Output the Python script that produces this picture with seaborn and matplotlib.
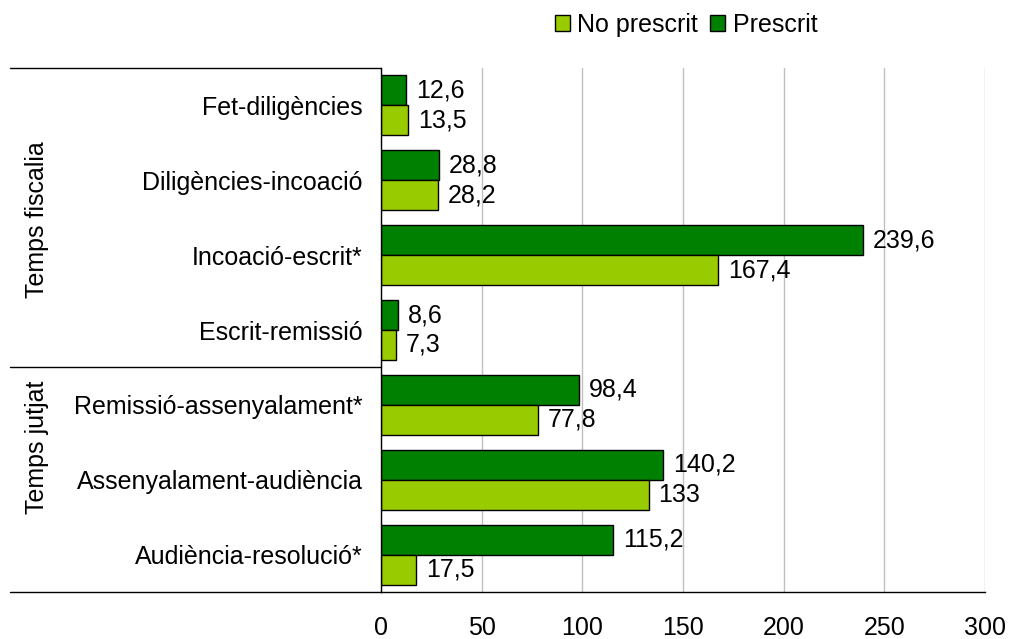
import matplotlib
matplotlib.use("Agg")
import matplotlib.pyplot as plt
import matplotlib.transforms as mtransforms
from matplotlib.lines import Line2D
from matplotlib.patches import Patch
import seaborn as sns
import pandas as pd

categories = ["Fet-diligències", "Diligències-incoació", "Incoació-escrit*",
              "Escrit-remissió", "Remissió-assenyalament*",
              "Assenyalament-audiència", "Audiència-resolució*"]
prescrit = [12.6, 28.8, 239.6, 8.6, 98.4, 140.2, 115.2]
no_prescrit = [13.5, 28.2, 167.4, 7.3, 77.8, 133, 17.5]
prescrit_labels = ["12,6", "28,8", "239,6", "8,6", "98,4", "140,2", "115,2"]
no_prescrit_labels = ["13,5", "28,2", "167,4", "7,3", "77,8", "133", "17,5"]
series = ["Prescrit", "No prescrit"]
groups = ["Temps fiscalia", "Temps jutjat"]
xticks = [0, 50, 100, 150, 200, 250, 300]

sns.set_style("white")
plt.rcParams["font.family"] = ["Liberation Sans", "DejaVu Sans"]
plt.rcParams["text.color"] = "black"
plt.rcParams["xtick.color"] = "black"
plt.rcParams["ytick.color"] = "black"
plt.rcParams["xtick.labelcolor"] = "black"
plt.rcParams["ytick.labelcolor"] = "black"
FS = 18

df = pd.DataFrame({
    "cat": categories * 2,
    "serie": [series[0]] * len(categories) + [series[1]] * len(categories),
    "val": prescrit + no_prescrit,
})
colors = {"Prescrit": "#008000", "No prescrit": "#99CC00"}

fig = plt.figure(figsize=(10.09, 6.39), dpi=100)
ax = fig.add_axes([381 / 1009, 1 - 592 / 639, 604 / 1009, 524 / 639])

sns.barplot(data=df, y="cat", x="val", hue="serie", hue_order=series,
            order=categories, palette=colors, orient="h", width=0.8,
            edgecolor="black", linewidth=1, ax=ax, legend=False, saturation=1)

ax.set_xlim(0, 300)
ax.set_xticks(xticks)
ax.set_xticklabels([str(t) for t in xticks], fontsize=FS)
ax.set_ylabel("")
ax.set_xlabel("")
ax.tick_params(axis="y", length=0, labelsize=FS, pad=13)
ax.tick_params(axis="x", length=6, width=1, color="black", direction="out", pad=11)
ax.xaxis.grid(True, color="#c0c0c0", linewidth=1)
ax.set_axisbelow(True)
for s in ["top", "right"]:
    ax.spines[s].set_visible(False)
ax.spines["left"].set_color("black")
ax.spines["bottom"].set_color("black")
ax.spines["left"].set_linewidth(1)
ax.spines["bottom"].set_linewidth(1)

# value labels
for container, labels in zip(ax.containers, [prescrit_labels, no_prescrit_labels]):
    ax.bar_label(container, labels=labels, padding=7, fontsize=FS)

# group separator lines
tr = mtransforms.blended_transform_factory(ax.transAxes, ax.transData)
x0 = (10 - 381) / 604
for yv in [-0.5, 3.5, 6.5]:
    ax.add_line(Line2D([x0, 0], [yv, yv], transform=tr, color="black",
                       linewidth=1, clip_on=False))
tr2 = mtransforms.blended_transform_factory(fig.transFigure, ax.transData)
ax.text(37 / 1009, 1.53, groups[0], transform=tr2, rotation=90, ha="center",
        va="center", fontsize=FS)
ax.text(37 / 1009, 4.57, groups[1], transform=tr2, rotation=90, ha="center",
        va="center", fontsize=FS)

handles = [Patch(facecolor=colors["No prescrit"], edgecolor="black", label="No prescrit"),
           Patch(facecolor=colors["Prescrit"], edgecolor="black", label="Prescrit")]
fig.legend(handles=handles, loc="center", bbox_to_anchor=(686 / 1009, 1 - 25 / 639),
           ncol=2, frameon=False, fontsize=FS, handlelength=0.6, handleheight=0.6,
           handletextpad=0.3, columnspacing=0.5)

fig.savefig("out.png", dpi=100)
